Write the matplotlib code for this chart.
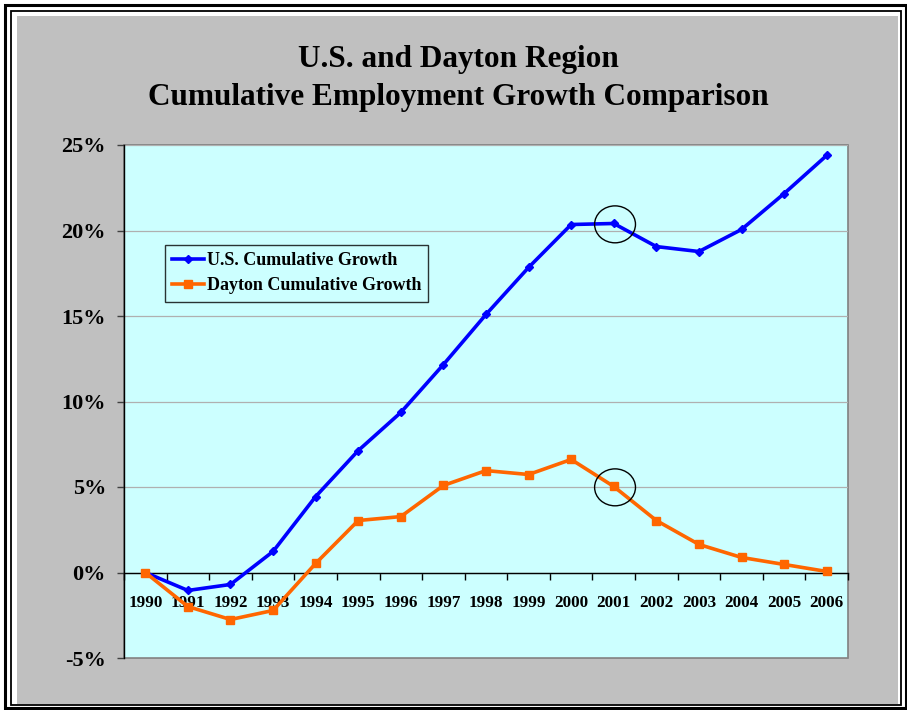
import matplotlib
matplotlib.use("Agg")
import matplotlib.pyplot as plt
from matplotlib.patches import Rectangle, Ellipse
from matplotlib.ticker import FuncFormatter, MultipleLocator

years = ["1990", "1991", "1992", "1993", "1994", "1995", "1996", "1997", "1998",
         "1999", "2000", "2001", "2002", "2003", "2004", "2005", "2006"]
us_growth = [0.0, -1.05, -0.70, 1.23, 4.44, 7.13, 9.36, 12.16, 15.09,
             17.84, 20.35, 20.41, 19.06, 18.77, 20.06, 22.16, 24.39]
dayton_growth = [0.0, -1.99, -2.75, -2.22, 0.53, 3.04, 3.27, 5.09, 5.96,
                 5.73, 6.61, 5.03, 3.04, 1.64, 0.88, 0.47, 0.06]
title_lines = ["U.S. and Dayton Region", "Cumulative Employment Growth Comparison"]
series_names = ["U.S. Cumulative Growth", "Dayton Cumulative Growth"]
highlight_year = "2001"

W, H = 907, 710
fig = plt.figure(figsize=(W / 100, H / 100), dpi=100, facecolor="white")
font = "Liberation Serif"

def px_rect(x0, y0, x1, y1, **kw):
    r = Rectangle((x0 / W, 1 - y1 / H), (x1 - x0) / W, (y1 - y0) / H,
                  transform=fig.transFigure, **kw)
    fig.patches.append(r)

# gray background and double frame
px_rect(17, 16, 898, 704, facecolor="#C0C0C0", edgecolor="none", zorder=-2)
px_rect(5, 5, 906, 708, facecolor="none", edgecolor="black", linewidth=2.2, zorder=-1)
px_rect(11, 11, 901, 705, facecolor="none", edgecolor="black", linewidth=1.3, zorder=-1)

ax = fig.add_axes([124 / W, 1 - 658 / H, (848 - 124) / W, (658 - 145) / H])
ax.set_zorder(2)
ax.set_facecolor("#CCFFFF")

x = list(range(len(years)))
ax.plot(x, us_growth, color="#0000FF", lw=2.6, marker="D", ms=4.5,
        label=series_names[0], zorder=4, clip_on=False)
ax.plot(x, dayton_growth, color="#FF6600", lw=2.6, marker="s", ms=6,
        label=series_names[1], zorder=4, clip_on=False)

ax.set_xlim(-0.5, len(years) - 0.5)
ax.set_ylim(-5, 25)
ax.yaxis.set_major_locator(MultipleLocator(5))
ax.yaxis.set_major_formatter(FuncFormatter(lambda v, p: f"{v:.0f}%"))
ax.grid(axis="y", color="#B0B0B0", lw=0.9, zorder=1)
ax.set_axisbelow(True)

for s in ["top", "right"]:
    ax.spines[s].set_visible(False)
ax.spines["left"].set_color("black")
ax.spines["left"].set_linewidth(1.0)
ax.spines["bottom"].set_position(("data", 0))
ax.spines["bottom"].set_color("black")
ax.spines["bottom"].set_linewidth(1.0)

ax.add_patch(Rectangle((0, 0), 1, 1, transform=ax.transAxes, fill=False,
                       edgecolor="#808080", lw=1.2, zorder=0.5, clip_on=False))

ax.set_xticks([i + 0.5 for i in range(-1, len(years))])
ax.set_xticklabels([])
ax.tick_params(axis="x", which="major", direction="out", length=5, width=1, color="black")
ax.set_xticks(x, minor=True)
ax.set_xticklabels(years, minor=True, fontfamily=font, fontweight="bold", fontsize=12.3)
ax.tick_params(axis="x", which="minor", length=0, pad=16)
ax.tick_params(axis="y", direction="out", length=5, width=1, color="#404040", pad=8)
for lab in ax.get_yticklabels():
    lab.set_fontfamily(font)
    lab.set_fontweight("bold")
    lab.set_fontsize(16)

hi = years.index(highlight_year)
for vals in (us_growth, dayton_growth):
    ax.add_patch(Ellipse((hi + 0.03, vals[hi] - 0.05), 0.96, 2.16, fill=False,
                         edgecolor="black", lw=1.0, zorder=5))

leg = ax.legend(loc="upper left", bbox_to_anchor=((165 - 124) / (848 - 124), 1 - (245 - 145) / (658 - 145)),
                frameon=True, fancybox=False, edgecolor="black", facecolor="#CCFFFF",
                prop={"family": font, "weight": "bold", "size": 13},
                handlelength=1.75, handletextpad=0.15, borderpad=0.4, labelspacing=0.45,
                borderaxespad=0)
leg.get_frame().set_linewidth(1.0)

fig.text(458 / W, 1 - 60 / H, title_lines[0], ha="center", va="center",
         fontfamily=font, fontweight="bold", fontsize=22.5)
fig.text(458 / W, 1 - 98 / H, title_lines[1], ha="center", va="center",
         fontfamily=font, fontweight="bold", fontsize=22.5)

fig.savefig("out.png", dpi=100, facecolor="white")
